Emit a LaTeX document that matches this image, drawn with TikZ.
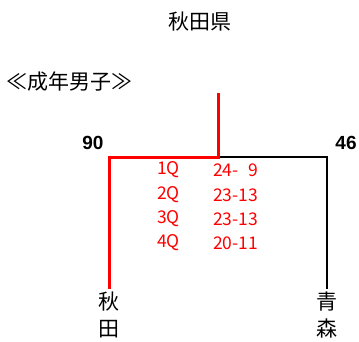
\documentclass[tikz,border=0pt]{standalone}
\usepackage{fontspec}
\setmainfont{Noto Sans CJK JP}
\newfontfamily\numfont{Liberation Sans}
\begin{document}
\begin{tikzpicture}[x=1pt,y=-1pt,
  title/.style={font=\fontsize{21}{23}\selectfont, inner sep=0pt},
  score/.style={font=\numfont\bfseries\fontsize{19}{21}\selectfont, inner sep=0pt},
  qtext/.style={font=\fontsize{17.5}{19}\selectfont, text=red, inner sep=0pt, anchor=west},
  team/.style={font=\fontsize{21}{27}\selectfont, inner sep=0pt, align=center, anchor=north},
  win/.style={red, line width=3pt},
  lose/.style={black, line width=2pt}]
\useasboundingbox (0,0) rectangle (359,341);
\node[title] (t) at (200,22) {秋田県};
\node[title, anchor=west] (c) at (6,82) {≪成年男子≫};
\node[score] (s1) at (93,143) {90};
\node[score] (s2) at (346,143) {46};
\coordinate (top) at (218,93);
\coordinate (mid) at (218,157);
\coordinate (lc) at (109,157);
\coordinate (rc) at (327,157);
\coordinate (lb) at (109,289);
\coordinate (rb) at (327,289);
\draw[lose] (mid) -- (rc) -- (rb);
\draw[win] (top) -- (mid) -- (lc) -- (lb);
\node[qtext] (q1) at (157,170) {1Q};
\node[qtext] (q2) at (157,195) {2Q};
\node[qtext] (q3) at (157,219) {3Q};
\node[qtext] (q4) at (157,243) {4Q};
\node[qtext] (p1) at (213,170) {24-\makebox[0.55em]{\ }9};
\node[qtext] (p2) at (213,195) {23-13};
\node[qtext] (p3) at (213,219) {23-13};
\node[qtext] (p4) at (213,243) {20-11};
\node[team] (a) at (109,292) {秋\\田};
\node[team] (b) at (327,292) {青\\森};
\end{tikzpicture}
\end{document}
